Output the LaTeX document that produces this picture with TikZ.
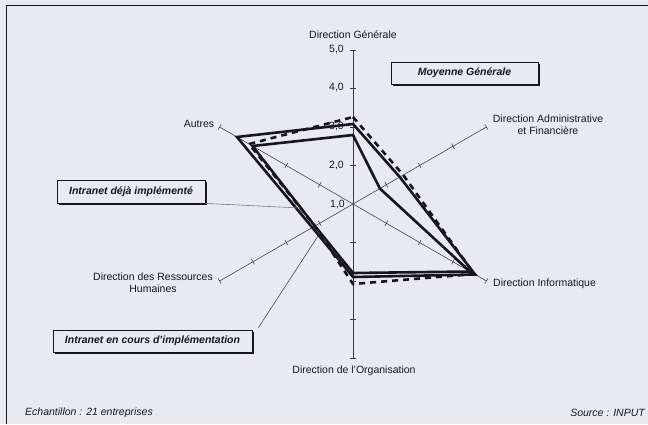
\documentclass[tikz,border=0pt]{standalone}
\usepackage{fontspec}
\setmainfont{Liberation Sans}
\usetikzlibrary{calc,shadows}
\definecolor{paper}{RGB}{233,233,243}
\definecolor{ink}{RGB}{22,22,28}
\definecolor{leader}{RGB}{120,120,128}
\begin{document}
\begin{tikzpicture}[x=1pt,y=-1pt,
  lbl/.style={font=\fontsize{10.5}{12}\selectfont, text=ink, inner sep=0pt, align=center},
  numlbl/.style={lbl, anchor=east},
  footlbl/.style={lbl, font=\fontsize{10.5}{12}\selectfont\itshape},
  keybox/.style={draw=ink, line width=0.8pt, fill=paper, inner sep=0pt,
    font=\fontsize{10.5}{12}\selectfont\bfseries\itshape, text=ink,
    drop shadow={shadow xshift=1.8pt, shadow yshift=-1.8pt, fill=ink, opacity=1}},
  axisline/.style={draw=ink!85, line width=0.55pt},
  series/.style={draw=ink, line width=2.6pt, line join=miter, miter limit=6},
  meanseries/.style={series, dash pattern=on 6pt off 5pt},
  leaderline/.style={draw=leader, line width=0.6pt}
]
% page and frame
\fill[paper] (0,0) rectangle (648,424);
\useasboundingbox (0,0) rectangle (648,424);
\draw[ink, line width=0.9pt] (6,424) -- (6,5) -- (648,5);

% radar axes with their unit ticks
\begin{scope}[shift={(353,204)}, y=1pt]
  \coordinate (O) at (0,0);
  \foreach \a in {90,30,-30,-90,-150,150} {
    \draw[axisline] (O) -- (\a:154);
    \foreach \k in {1,...,4}
      \draw[axisline] ($(\a:38.5*\k)+(\a+90:3)$) -- ($(\a:38.5*\k)+(\a-90:3)$);
  }
\end{scope}

% scale values on the first axis
\node[numlbl] (v5) at (344,50) {5,0};
\node[numlbl] (v4) at (344,88) {4,0};
\node[numlbl] (v3) at (344,127) {3,0};
\node[numlbl] (v2) at (344,165) {2,0};
\node[numlbl] (v1) at (345,204) {1,0};

% data series
\begin{scope}[shift={(353,204)}, y=1pt]
  % Moyenne Generale
  \draw[meanseries] (90:87) -- (30:58) -- (-30:140) -- (-90:80) -- (-150:44) -- (150:120) -- cycle;
  % Intranet deja implemente
  \draw[series] (90:80) -- (30:54) -- (-30:141) -- (-90:73) -- (-150:47) -- (150:134) -- cycle;
  % Intranet en cours d'implementation
  \draw[series] (90:69) -- (30:31) -- (-30:135) -- (-90:69) -- (-150:44) -- (150:116) -- cycle;
\end{scope}

% axis titles
\node[lbl] (dg) at (353,35) {Direction Générale};
\node[lbl] (daf) at (548,125) {Direction Administrative\\et Financière};
\node[lbl, anchor=west] (di) at (493,284) {Direction Informatique};
\node[lbl] (dorg) at (354,371) {Direction de l'Organisation};
\node[lbl] (drh) at (153,283) {Direction des Ressources\\Humaines};
\node[lbl] (aut) at (199,124) {Autres};

% legend boxes
\node[keybox, minimum width=147pt, minimum height=22pt] (keyM) at (464.5,73) {Moyenne Générale};
\node[keybox, minimum width=148pt, minimum height=23pt] (keyA) at (131,191.5) {Intranet déjà implémenté};
\node[keybox, minimum width=199pt, minimum height=22pt] (keyB) at (152.5,341) {Intranet en cours d'implémentation};

% leader lines from the boxes to the series
\coordinate (hitM) at (357,122);
\coordinate (hitA) at (300,208);
\coordinate (hitB) at (318,236);
\draw[leaderline, draw=leader!18, dash pattern=on 4pt off 8pt] ($(keyM.south east)+(-11,2)$) -- (hitM);
\draw[leaderline] (keyA.south east) -- (hitA);
\draw[leaderline, draw=ink!80] ($(keyB.north east)+(6,-2)$) -- (hitB);

% footer
\node[footlbl, anchor=west] (sample) at (25,413) {Echantillon : 21 entreprises};
\node[footlbl, anchor=east] (source) at (645,413) {Source : INPUT};
\end{tikzpicture}
\end{document}
